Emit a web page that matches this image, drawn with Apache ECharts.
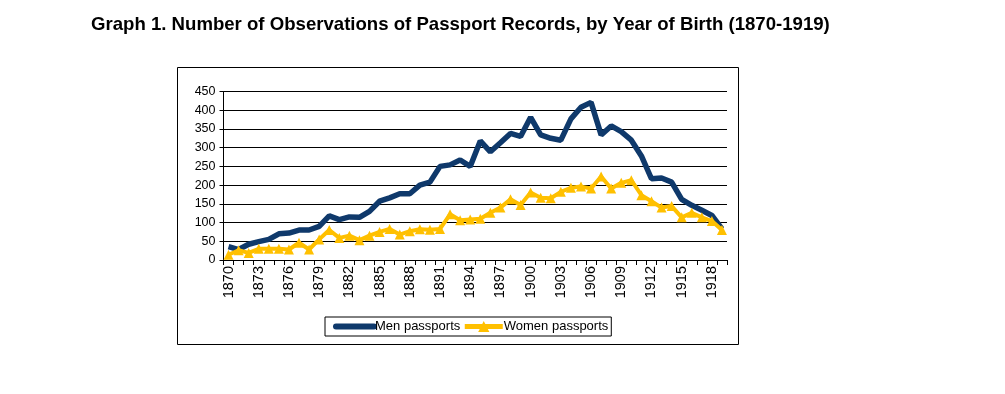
<!DOCTYPE html>
<html>
<head>
<meta charset="utf-8">
<script src="https://cdn.jsdelivr.net/npm/echarts@6/dist/echarts.min.js"></script>
<style>
html,body{margin:0;padding:0;background:#fff;}
#chart{width:1005px;height:394px;}
</style>
</head>
<body>
<div id="chart"></div>
<script>
const titleText = 'Graph 1. Number of Observations of Passport Records, by Year of Birth (1870-1919)';
const years = [];
for (let y = 1870; y <= 1919; y++) years.push(String(y));
const seriesNames = ['Men passports', 'Women passports'];
const menValues = [36,28,42,49,55,70,72,80,80,90,
  118,108,115,114,130,157,166,177,177,200,
  208,250,254,267,250,318,289,313,338,330,
  381,334,325,320,377,408,421,334,358,343,
  320,278,217,219,208,162,146,133,119,83];
const womenValues = [14,26,19,30,30,30,28,46,28,55,
  80,59,65,53,65,75,83,68,77,82,
  81,83,122,106,108,110,126,140,162,147,
  180,166,165,182,193,196,191,223,191,206,
  213,173,157,140,144,114,126,114,104,80];
const yTicks = [0,50,100,150,200,250,300,350,400,450];

const chart = echarts.init(document.getElementById('chart'), null, {renderer:'canvas'});
const font = 'Liberation Sans, Arial, sans-serif';
chart.setOption({
  animation: false,
  backgroundColor: '#fff',
  textStyle: {fontFamily: font},
  title: {
    text: titleText,
    left: 86, top: 10,
    textStyle: {fontFamily: font, fontWeight: 'bold', fontSize: 18.6, color: '#000'}
  },
  graphic: [{
    type: 'rect',
    shape: {x: 177.5, y: 67.5, width: 561, height: 277},
    style: {fill: 'none', stroke: '#000', lineWidth: 1},
    silent: true
  }],
  grid: {left: 223.5, right: 278, top: 91.5, bottom: 134, containLabel: false},
  legend: {
    data: [
      {name: seriesNames[0], itemStyle: {opacity: 0}, lineStyle: {width: 6, color: '#0F396B', cap: 'round'}},
      {name: seriesNames[1], lineStyle: {width: 5, color: '#FFC000'}}
    ],
    left: 325, top: 317,
    orient: 'horizontal',
    borderColor: '#000', borderWidth: 1,
    padding: [3, 3, 3, 8],
    itemGap: 2,
    itemWidth: 38, itemHeight: 14,
    textStyle: {fontFamily: font, fontSize: 13, color: '#000', padding: [0,0,0,-4]}
  },
  xAxis: {
    type: 'category',
    data: years,
    boundaryGap: true,
    axisLine: {lineStyle: {color: '#000', width: 1}},
    axisTick: {show: true, interval: 0, length: 5, lineStyle: {color: '#000'}},
    axisLabel: {interval: 2, rotate: 90, fontSize: 14.5, color: '#000', fontFamily: font, margin: 6}
  },
  yAxis: {
    type: 'value',
    min: yTicks[0], max: yTicks[yTicks.length-1], interval: 50,
    axisLine: {show: true, lineStyle: {color: '#000', width: 1}},
    axisTick: {show: true, length: 4, lineStyle: {color: '#000'}},
    axisLabel: {fontSize: 12.5, color: '#000', fontFamily: font, margin: 8},
    splitLine: {show: true, lineStyle: {color: '#000', width: 1}}
  },
  series: [
    {
      name: seriesNames[0], type: 'line', data: menValues,
      showSymbol: false, symbol: 'none',
      lineStyle: {color: '#0F396B', width: 5.5},
      itemStyle: {color: '#0F396B'}
    },
    {
      name: seriesNames[1], type: 'line', data: womenValues,
      symbol: 'triangle', symbolSize: 10, showAllSymbol: true,
      lineStyle: {color: '#FFC000', width: 4},
      itemStyle: {color: '#FFC000'}
    }
  ]
});
</script>
</body>
</html>
